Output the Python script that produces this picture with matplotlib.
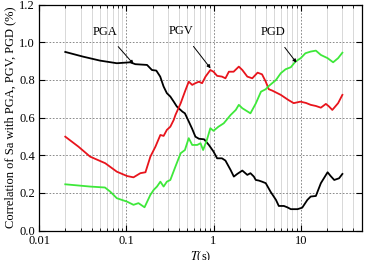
import matplotlib
matplotlib.use("Agg")
import matplotlib.pyplot as plt
from matplotlib.ticker import LogLocator, FixedLocator, NullFormatter

plt.rcParams['font.family'] = ['Liberation Serif', 'DejaVu Serif']
plt.rcParams['mathtext.fontset'] = 'stix'

# period (s) and correlation
pga_T = [0.02, 0.032, 0.05, 0.078, 0.111, 0.127, 0.173, 0.197, 0.221, 0.245, 0.268, 0.292,
         0.32, 0.35, 0.38, 0.44, 0.47, 0.52, 0.57, 0.62, 0.68, 0.78, 0.885, 1.0, 1.1, 1.25,
         1.37, 1.57, 1.71, 1.87, 2.14, 2.44, 2.65, 2.9, 3.05, 3.3, 3.6, 3.97, 4.5, 5.2, 5.6,
         6.4, 7.0, 7.7, 9.2, 10.4, 11.9, 13.0, 14.9, 17.0, 20.3, 22.0, 24.2, 27.5, 30.0]
pga_r = [0.949, 0.924, 0.903, 0.889, 0.894, 0.884, 0.880, 0.853, 0.850, 0.818, 0.765, 0.730,
         0.712, 0.685, 0.659, 0.632, 0.623, 0.580, 0.540, 0.499, 0.488, 0.485, 0.455, 0.42,
         0.384, 0.384, 0.372, 0.322, 0.287, 0.301, 0.319, 0.296, 0.305, 0.287, 0.269, 0.266,
         0.260, 0.252, 0.207, 0.163, 0.131, 0.131, 0.124, 0.114, 0.114, 0.122, 0.163, 0.181,
         0.184, 0.252, 0.310, 0.290, 0.269, 0.278, 0.301]

pgv_T = [0.02, 0.0283, 0.0385, 0.0574, 0.078, 0.102, 0.121, 0.145, 0.166, 0.189, 0.216, 0.246,
         0.268, 0.292, 0.32, 0.35, 0.366, 0.42, 0.47, 0.52, 0.57, 0.62, 0.68, 0.74, 0.81, 0.92,
         1.0, 1.1, 1.25, 1.37, 1.5, 1.7, 1.95, 2.14, 2.44, 2.78, 3.2, 3.6, 3.97, 4.3, 4.7, 5.9,
         7.2, 8.3, 9.9, 11.5, 13.0, 14.9, 17.0, 19.4, 21.0, 23.0, 26.8, 30.0]
pgv_r = [0.499, 0.446, 0.393, 0.358, 0.313, 0.290, 0.283, 0.305, 0.310, 0.393, 0.446, 0.508,
         0.503, 0.535, 0.552, 0.588, 0.614, 0.676, 0.738, 0.791, 0.774, 0.783, 0.791, 0.783,
         0.818, 0.853, 0.844, 0.822, 0.818, 0.809, 0.844, 0.844, 0.871, 0.853, 0.818, 0.809,
         0.839, 0.830, 0.791, 0.751, 0.744, 0.721, 0.694, 0.677, 0.685, 0.678, 0.668, 0.662,
         0.653, 0.673, 0.660, 0.641, 0.677, 0.721]

pgd_T = [0.02, 0.0385, 0.057, 0.0655, 0.078, 0.102, 0.121, 0.138, 0.162, 0.189, 0.206, 0.225,
         0.246, 0.268, 0.292, 0.32, 0.366, 0.42, 0.47, 0.52, 0.57, 0.65, 0.71, 0.76, 0.84,
         0.92, 1.0, 1.14, 1.31, 1.57, 1.8, 1.95, 2.14, 2.65, 3.05, 3.5, 3.97, 4.3, 5.2, 5.9,
         6.7, 7.7, 8.7, 10.0, 11.3, 13.0, 14.9, 17.0, 20.3, 23.5, 26.8, 30.0]
pgd_r = [0.246, 0.234, 0.229, 0.207, 0.172, 0.154, 0.137, 0.146, 0.124, 0.190, 0.216, 0.234,
         0.260, 0.234, 0.260, 0.269, 0.340, 0.411, 0.428, 0.491, 0.455, 0.455, 0.464, 0.428,
         0.482, 0.544, 0.530, 0.552, 0.570, 0.614, 0.641, 0.668, 0.650, 0.623, 0.675, 0.738,
         0.751, 0.768, 0.800, 0.836, 0.857, 0.868, 0.898, 0.916, 0.942, 0.951, 0.956, 0.933,
         0.916, 0.894, 0.916, 0.945]

# (label, arrow tip T, tip r, text T, text r)
notes = [("PGA", 0.121, 0.885, 0.057, 1.057),
         ("PGV", 0.924, 0.862, 0.43, 1.06),
         ("PGD", 8.93, 0.892, 4.8, 1.055)]

fig = plt.figure(figsize=(3.68, 2.60), dpi=100)
ax = fig.add_axes([0.106, 0.113, 0.877, 0.869])

ax.plot(pga_T, pga_r, color='black', lw=1.3, zorder=3)
ax.plot(pgv_T, pgv_r, color='#e8141c', lw=1.3, zorder=3)
ax.plot(pgd_T, pgd_r, color='#3ee83a', lw=1.3, zorder=3)

for label, tx, ty, lx, ly in notes:
    ax.annotate(label, xy=(tx, ty), xytext=(lx, ly), fontsize=9, ha='center', va='center',
                arrowprops=dict(arrowstyle='-|>', color='black', lw=0.7,
                                mutation_scale=5, shrinkA=6, shrinkB=0))

ax.set_xscale('log')
ax.set_xlim(0.01, 50)
ax.set_ylim(0, 1.2)
ax.xaxis.set_major_locator(FixedLocator([0.01, 0.1, 1, 10]))
ax.set_xticklabels(['0.01', '0.1', '1', '10'])
ax.xaxis.set_minor_locator(LogLocator(base=10, subs=range(2, 10), numticks=20))
ax.xaxis.set_minor_formatter(NullFormatter())
ax.set_yticks([0, 0.2, 0.4, 0.6, 0.8, 1.0, 1.2])
ax.set_yticklabels(['0.0', '0.2', '0.4', '0.6', '0.8', '1.0', '1.2'])

ax.grid(True, which='major', color='#777777', ls=(0, (2, 2)), lw=0.6, zorder=1)
ax.grid(True, which='minor', axis='x', color='#d8d8d8', ls='-', lw=0.7, zorder=0)

ax.tick_params(which='both', direction='in', top=True, right=True, labelsize=9, pad=3)
ax.tick_params(which='major', length=4, width=0.8)
ax.tick_params(which='minor', length=2.5, width=0.6)
for s in ax.spines.values():
    s.set_linewidth(0.9)

ax.set_xlabel(r'$T$(s)', fontsize=9, labelpad=2)
ax.set_ylabel('Correlation of Sa with PGA, PGV, PGD (%)', fontsize=9, labelpad=2)

fig.savefig('out.png', dpi=100)
